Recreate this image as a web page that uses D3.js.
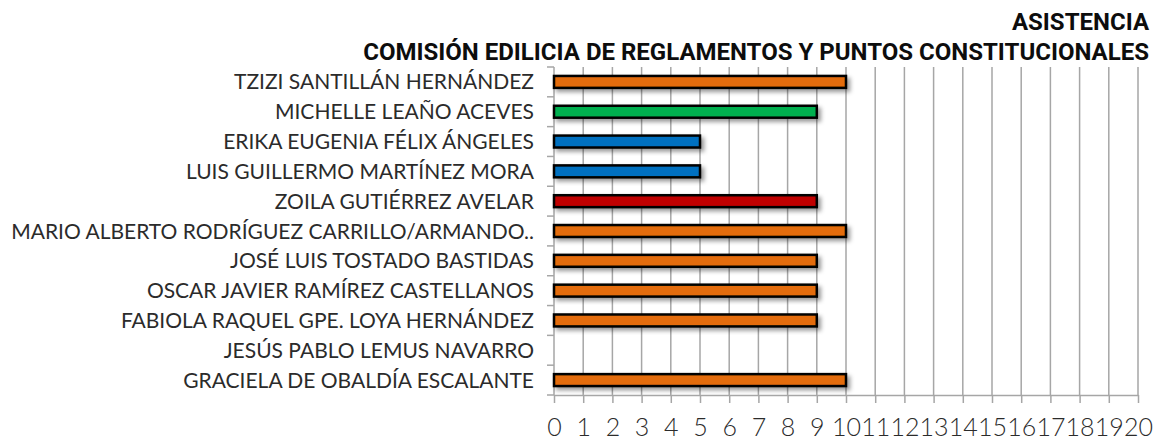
<!DOCTYPE html>
<html>
<head>
<meta charset="utf-8">
<script src="https://cdn.jsdelivr.net/npm/d3@7"></script>
<style>
  body { margin: 0; background: #fff; }
  svg { display: block; }
  .lbl { font-family: "Lato", "DejaVu Sans", sans-serif; fill: #2b2b2b; }
  .ttl { font-family: "Roboto", "Liberation Sans", sans-serif; font-weight: bold; fill: #0d0d0d; }
</style>
</head>
<body>
<svg></svg>
<script>
// categories as shown, top to bottom
var names = [
  "TZIZI SANTILLÁN HERNÁNDEZ",
  "MICHELLE LEAÑO ACEVES",
  "ERIKA EUGENIA FÉLIX ÁNGELES",
  "LUIS GUILLERMO MARTÍNEZ MORA",
  "ZOILA GUTIÉRREZ AVELAR",
  "MARIO ALBERTO RODRÍGUEZ CARRILLO/ARMANDO..",
  "JOSÉ LUIS TOSTADO BASTIDAS",
  "OSCAR JAVIER RAMÍREZ CASTELLANOS",
  "FABIOLA RAQUEL GPE. LOYA HERNÁNDEZ",
  "JESÚS PABLO LEMUS NAVARRO",
  "GRACIELA DE OBALDÍA ESCALANTE"
];
var asistencia = [10, 9, 5, 5, 9, 10, 9, 9, 9, 0, 10];
var partido = ["o", "g", "b", "b", "r", "o", "o", "o", "o", "o", "o"];
var xTicks = d3.range(0, 21);
var titleLines = ["ASISTENCIA", "COMISIÓN EDILICIA DE REGLAMENTOS Y PUNTOS CONSTITUCIONALES"];

var colores = { o: "#E36C09", g: "#00B050", b: "#0070C0", r: "#C00000" };

var svgWidth = 1171;
var svgHeight = 443;
var plotLeft = 554, plotTop = 67, plotRight = 1138, plotBottom = 395;

var rows = names.map(function(n, i) {
    return { name: n, value: asistencia[i], color: colores[partido[i]] };
});

var svg = d3.select("svg")
    .attr("width", svgWidth)
    .attr("height", svgHeight);

// shadow under the bars
var defs = svg.append("defs");
var f = defs.append("filter").attr("id", "sombra")
    .attr("x", "-10%").attr("y", "-50%").attr("width", "120%").attr("height", "220%");
f.append("feDropShadow")
    .attr("dx", 3).attr("dy", 3).attr("stdDeviation", 2)
    .attr("flood-color", "#000").attr("flood-opacity", 0.4);

var x = d3.scaleLinear().domain([0, 20]).range([plotLeft, plotRight]);
var y = d3.scaleBand().domain(names).range([plotTop, plotBottom])
    .paddingInner(0.6).paddingOuter(0.3);

// vertical gridlines
svg.append("g").selectAll("line")
    .data(xTicks.slice(1))
    .enter()
    .append("line")
    .attr("x1", function(d) { return x(d); })
    .attr("x2", function(d) { return x(d); })
    .attr("y1", plotTop)
    .attr("y2", plotBottom)
    .attr("stroke", "#a6a6a6")
    .attr("stroke-width", 1.5);

// bottom axis
var xAxis = svg.append("g")
    .attr("transform", "translate(0," + plotBottom + ")")
    .call(d3.axisBottom(x).tickValues(xTicks).tickSize(8).tickPadding(15).tickSizeOuter(0));
xAxis.select(".domain").attr("stroke", "#a6a6a6").attr("stroke-width", 1.5);
xAxis.selectAll(".tick line").attr("stroke", "#a6a6a6").attr("stroke-width", 1.5);
xAxis.selectAll("text")
    .attr("class", "lbl")
    .attr("fill", null)
    .style("font-size", "25px")
    .style("font-weight", 300)
    .attr("dy", "0.71em");

// left axis with tick marks between rows
var yEdges = d3.range(0, names.length + 1).map(function(i) {
    return plotTop + i * (plotBottom - plotTop) / names.length;
});
var yAxis = svg.append("g");
yAxis.append("line")
    .attr("x1", plotLeft).attr("x2", plotLeft)
    .attr("y1", plotTop).attr("y2", plotBottom)
    .attr("stroke", "#a6a6a6").attr("stroke-width", 1.5);
yAxis.selectAll("line.t")
    .data(yEdges)
    .enter()
    .append("line")
    .attr("class", "t")
    .attr("x1", plotLeft - 7).attr("x2", plotLeft)
    .attr("y1", function(d) { return d; })
    .attr("y2", function(d) { return d; })
    .attr("stroke", "#a6a6a6").attr("stroke-width", 1.5);

// category labels
svg.append("g").selectAll("text")
    .data(names)
    .enter()
    .append("text")
    .attr("class", "lbl")
    .attr("x", plotLeft - 20)
    .attr("y", function(d) { return y(d) + y.bandwidth() / 2; })
    .attr("dy", "0.36em")
    .attr("text-anchor", "end")
    .style("font-size", "21px")
    .text(function(d) { return d; });

// bars
svg.append("g").selectAll("rect")
    .data(rows.filter(function(r) { return r.value > 0; }))
    .enter()
    .append("rect")
    .attr("x", x(0))
    .attr("y", function(d) { return y(d.name); })
    .attr("width", function(d) { return x(d.value) - x(0); })
    .attr("height", y.bandwidth())
    .attr("fill", function(d) { return d.color; })
    .attr("stroke", "#000")
    .attr("stroke-width", 2.5)
    .attr("filter", "url(#sombra)");

// title
svg.append("g").selectAll("text")
    .data(titleLines)
    .enter()
    .append("text")
    .attr("class", "ttl")
    .attr("x", 1149)
    .attr("y", function(d, i) { return 30 + i * 30; })
    .attr("text-anchor", "end")
    .style("font-size", "24px")
    .text(function(d) { return d; });
</script>
</body>
</html>
